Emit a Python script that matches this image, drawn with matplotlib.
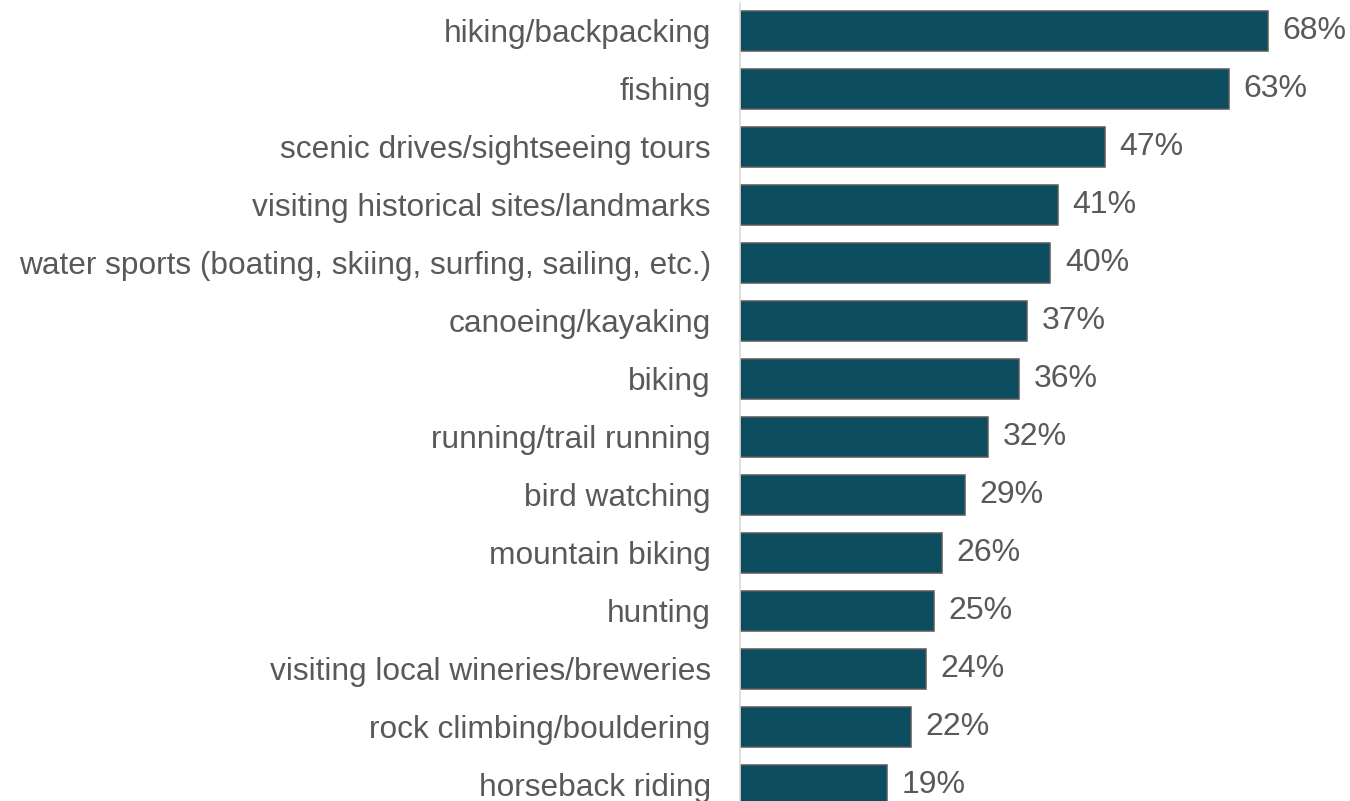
import matplotlib.pyplot as plt

activities = [
    "hiking/backpacking",
    "fishing",
    "scenic drives/sightseeing tours",
    "visiting historical sites/landmarks",
    "water sports (boating, skiing, surfing, sailing, etc.)",
    "canoeing/kayaking",
    "biking",
    "running/trail running",
    "bird watching",
    "mountain biking",
    "hunting",
    "visiting local wineries/breweries",
    "rock climbing/bouldering",
    "horseback riding",
]
shares = [68, 63, 47, 41, 40, 37, 36, 32, 29, 26, 25, 24, 22, 19]

plt.rcParams['font.family'] = ['Liberation Sans', 'DejaVu Sans']

fig = plt.figure(figsize=(13.5, 8.01), dpi=100)
ax = fig.add_axes([740 / 1350, 0, 610 / 1350, 798 / 801])

pos = range(len(activities))
ax.barh(pos, shares, height=0.69, color="#0b4d5e", edgecolor="#595959", linewidth=1.1)

# percentage labels just past the end of each bar
for y, v in zip(pos, shares):
    ax.annotate(f"{v}%", (v, y), xytext=(10.5, 0), textcoords="offset points",
                va="center", ha="left", fontsize=23, color="#595959")

ax.set_xlim(0, 610 / 7.76)
ax.set_ylim(13.28, -0.48)
ax.set_yticks(list(pos))
ax.set_yticklabels(activities, fontsize=22.8, color="#595959")
ax.tick_params(axis="y", length=0, pad=21)
ax.set_xticks([])
for s in ["top", "right", "bottom"]:
    ax.spines[s].set_visible(False)
ax.spines["left"].set_color("#d9d9d9")
ax.spines["left"].set_linewidth(1.2)

fig.savefig("out.png", dpi=100)
